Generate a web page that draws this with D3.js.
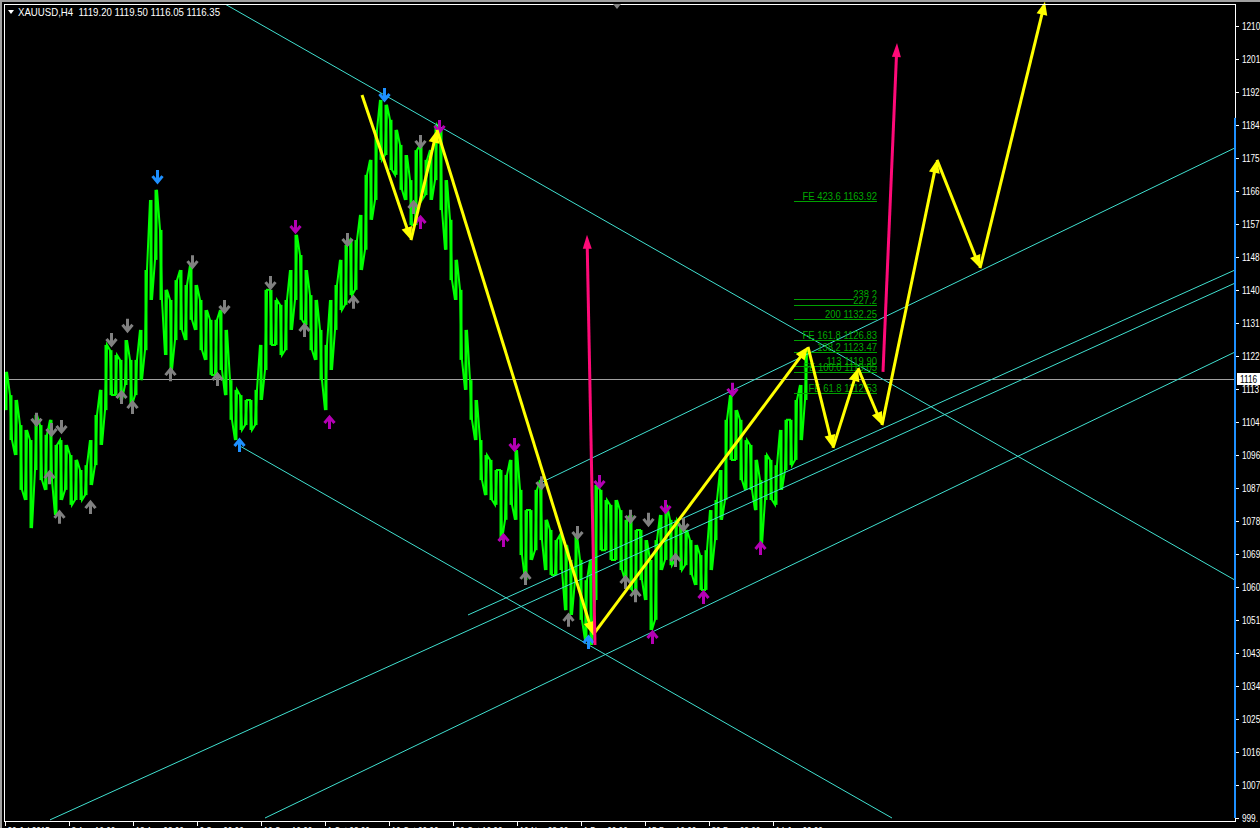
<!DOCTYPE html>
<html><head><meta charset="utf-8">
<script src="https://cdn.jsdelivr.net/npm/d3@7"></script>
<style>html,body{margin:0;padding:0;background:#000;overflow:hidden}</style>
</head><body>
<svg id="c" width="1260" height="828"></svg>
<script>
// ---------------- DATA ----------------
const symbolTitle = "XAUUSD,H4  1119.20 1119.50 1116.05 1116.35";
const lastPrice = 1116.35;
const lastPriceLabel = "1116";

const priceTicks = [999.10,1007.91,1016.72,1025.53,1034.34,1043.15,1051.96,1060.77,1069.58,1078.39,1087.20,1096.01,1104.82,1113.63,1122.44,1131.25,1140.06,1148.87,1157.68,1166.49,1175.30,1184.11,1192.92,1201.73,1210.54];
const priceTickLabels = ["999.","1007","1016","1025","1034","1043","1051","1060","1069","1078","1087","1096","1104","1113","1122","1131","1140","1148","1157","1166","1175","1184","1192","1201","1210"];

const timeTickBars = [0,64,128,192,256,320,384,448,512,576,640,704,768];
const timeTickLabels = ["20 Jul 2015","3 Aug 16:00","18 Aug 08:00","2 Sep 00:00","16 Sep 16:00","1 Oct 08:00","16 Oct 00:00","30 Oct 16:00","16 Nov 08:00","1 Dec 00:00","15 Dec 16:00","30 Dec 08:00","14 Jan 00:00"];

// sampled H4 bars (every 5th bar): highs and lows
const sampleStep = 5;
const barHigh = [1118.2,1112.0,1110.7,1104.0,1102.7,1100.0,1106.7,1104.0,1101.4,1105.4,1098.7,1100.0,1098.7,1096.0,1094.7,1092.0,1093.3,1100.0,1106.7,1113.4,
1125.4,1124.0,1122.7,1121.4,1126.7,1121.4,1121.4,1129.4,1145.4,1164.1,1166.8,1156.1,1140.1,1137.4,1142.7,1145.4,1141.4,1146.7,1141.4,1137.4,
1134.7,1132.1,1132.1,1134.7,1129.4,1116.0,1113.4,1112.0,1110.7,1110.7,1113.4,1125.4,1140.1,1140.1,1137.4,1136.1,1137.4,1145.4,1154.8,1149.4,
1145.4,1138.7,1137.4,1129.4,1125.4,1137.4,1141.4,1148.1,1152.1,1153.4,1153.4,1160.1,1170.8,1174.8,1182.8,1190.8,1189.5,1185.5,1182.8,1178.8,
1176.1,1169.4,1177.4,1178.8,1174.8,1177.4,1184.1,1182.8,1169.4,1158.8,1148.1,1140.1,1129.4,1116.0,1110.7,1100.0,1096.0,1094.7,1092.0,1092.0,
1090.7,1094.7,1097.3,1086.7,1081.3,1081.3,1086.7,1089.3,1078.7,1076.0,1073.3,1074.7,1072.0,1068.0,1074.7,1068.0,1062.6,1068.0,1088.0,1086.7,
1084.0,1082.7,1084.0,1081.3,1078.7,1080.0,1076.0,1076.0,1073.3,1068.0,1073.3,1080.0,1082.7,1078.7,1078.7,1077.3,1076.0,1073.3,1072.0,1069.3,
1070.6,1081.3,1084.0,1092.0,1105.4,1112.0,1108.0,1105.4,1100.0,1098.7,1094.7,1089.3,1096.0,1094.7,1093.3,1102.7,1105.4,1105.4,1110.7,1114.7,1124.0];
const barLow = [1108.0,1100.0,1096.0,1086.7,1084.0,1076.5,1092.0,1089.3,1086.7,1089.3,1080.0,1084.0,1086.7,1082.7,1084.0,1084.0,1085.3,1088.0,1093.3,1098.7,
1108.0,1112.0,1112.0,1110.7,1114.7,1109.4,1112.0,1116.0,1124.0,1137.4,1148.1,1137.4,1122.7,1118.7,1126.7,1129.4,1126.7,1132.1,1129.4,1124.0,
1121.4,1117.4,1117.4,1118.7,1112.0,1105.4,1100.0,1102.7,1104.0,1102.7,1104.0,1110.7,1118.7,1125.4,1125.4,1122.7,1124.0,1129.4,1137.4,1132.1,
1130.7,1124.0,1121.4,1116.0,1108.0,1118.7,1129.4,1134.7,1136.1,1138.7,1140.1,1145.4,1150.8,1158.8,1164.1,1174.8,1176.1,1172.1,1170.8,1166.8,
1164.1,1157.4,1157.4,1164.1,1165.4,1164.1,1169.4,1161.4,1150.8,1142.7,1137.4,1121.4,1113.4,1105.4,1100.0,1089.3,1085.3,1084.0,1082.7,1073.3,
1078.7,1082.7,1078.7,1069.3,1062.6,1068.0,1070.6,1073.3,1065.3,1064.0,1064.0,1065.3,1054.6,1053.3,1062.6,1052.0,1046.6,1045.3,1057.3,1070.6,
1070.6,1068.0,1068.0,1065.3,1062.6,1060.0,1058.6,1062.6,1057.3,1049.3,1052.0,1065.3,1068.0,1066.6,1068.0,1065.3,1066.6,1064.0,1061.3,1060.0,
1060.0,1065.3,1073.3,1078.7,1084.0,1094.7,1094.7,1089.3,1086.7,1086.7,1081.3,1072.0,1084.0,1084.0,1082.7,1086.7,1092.0,1093.3,1094.7,1100.0,1110.7];

// fractal arrows [bar, price]
const grayDownArrows = [[31,1105.4],[46,1102.7],[56,1103.5],[106,1126.7],[122,1130.5],[187,1147.5],[219,1135.5],[265,1141.9],[342,1153.4],[415,1179.6],[536,1088.5],[572,1075.2],[625,1079.5],[643,1078.7],[678,1077.3]];
const grayUpArrows = [[44,1090.1],[54,1079.5],[85,1082.1],[116,1111.5],[127,1108.8],[165,1117.6],[212,1116.3],[299,1129.4],[348,1136.9],[408,1162.2],[520,1063.2],[563,1052.0],[620,1062.1],[630,1058.6],[670,1068.0]];
const magentaDownArrows = [[290,1156.9],[434,1183.6],[509,1098.7],[594,1088.8],[660,1082.1],[727,1113.4]];
const magentaUpArrows = [[324,1104.8],[415,1158.2],[498,1073.3],[647,1047.4],[698,1058.1],[755,1071.2]];
const blueDownArrows = [[152,1170.2],[379,1192.1]];
const blueUpArrows = [[234,1098.7],[583,1046.1]];

// trend lines [bar1, price1, bar2, price2]
const trendLines = [
  [220,1216.4,1230,1062.6],
  [233,1098.7,887,999.1],
  [260,999.1,1230,1123.5],
  [45,998.6,1230,1141.9],
  [463,1053.3,1230,1145.4],
  [535,1088.5,1230,1178.0]
];

// yellow projected wave path [bar, price]
const wavePath = [[357,1192.1],[406,1153.4],[432,1182.8],[588,1048.0],[803,1124.9],[828,1097.9],[853,1119.2],[877,1104.0],[932,1174.8],[975,1145.9],[1040,1217.0]];
// pink arrows [bar1, price1, bar2, price2]
const pinkArrows = [[590,1045.3,582,1154.8],[878,1118.2,892,1206.0]];

// fibonacci levels
const fibStartBar = 789, fibEndBar = 872;
const fibLabels = ["FE 423.6 1163.92","238.2","227.2","200 1132.25","FE 161.8 1126.83","138.2 1123.47","113 1119.90","FE 100.0 1118.05","FE 61.8 1112.53"];
const fibPrices = [1163.92,1137.71,1136.12,1132.25,1126.83,1123.47,1119.90,1118.05,1112.53];

// ---------------- DRAW ----------------
const W = 1260, H = 828;
const FONT = "'Liberation Sans',Arial,sans-serif";
const svg = d3.select('#c');
const x = d3.scaleLinear().domain([0,1230]).range([5,1235]);
const y = d3.scaleLinear().domain([priceTicks[0], priceTicks[priceTicks.length-1]]).range([818,26]);

function squeeze(sel, f){
  sel.each(function(){
    const L = this.getComputedTextLength();
    d3.select(this).attr('textLength', L*f).attr('lengthAdjust','spacingAndGlyphs');
  });
}

svg.append('rect').attr('width',W).attr('height',H).attr('fill','#000');
svg.append('defs').append('clipPath').attr('id','plot')
  .append('rect').attr('x',5).attr('y',5).attr('width',1230).attr('height',816);

// window chrome
svg.append('rect').attr('x',0).attr('y',0).attr('width',W).attr('height',2).attr('fill','#a0a0a0');
svg.append('rect').attr('x',0).attr('y',0).attr('width',2).attr('height',H).attr('fill','#a0a0a0');

const plot = svg.append('g').attr('clip-path','url(#plot)');

// current price line
plot.append('line').attr('x1',5).attr('x2',1235).attr('y1',Math.round(y(lastPrice))+0.5).attr('y2',Math.round(y(lastPrice))+0.5)
  .attr('stroke','#a0a0a0').attr('stroke-width',1);

// bars: high-low columns plus a jagged high/low trace
const barG = plot.append('g');
barG.selectAll('rect').data(barHigh).join('rect')
  .attr('x',(d,i)=>x(1+i*sampleStep)-1.5)
  .attr('width',3)
  .attr('y',(d,i)=>y(barHigh[i]))
  .attr('height',(d,i)=>Math.max(1,y(barLow[i])-y(barHigh[i])))
  .attr('fill','#00ff00');
const trace = [];
barHigh.forEach((h,i)=>{
  const bx = x(1+i*sampleStep);
  if (i%2===0){ trace.push([bx-1,y(barLow[i])]); trace.push([bx+1,y(h)]); }
  else { trace.push([bx-1,y(h)]); trace.push([bx+1,y(barLow[i])]); }
});
barG.append('path').attr('d',d3.line()(trace)).attr('fill','none')
  .attr('stroke','#00ff00').attr('stroke-width',2).attr('stroke-linejoin','miter');

// trend lines
plot.append('g').selectAll('line').data(trendLines).join('line')
  .attr('x1',d=>x(d[0])).attr('y1',d=>y(d[1]))
  .attr('x2',d=>x(d[2])).attr('y2',d=>y(d[3]))
  .attr('stroke','#40e0d0').attr('stroke-width',1);

// fib levels
const fibG = plot.append('g');
fibPrices.forEach((p,i)=>{
  const yy = Math.round(y(p))+0.5;
  fibG.append('line').attr('x1',x(fibStartBar)).attr('x2',x(fibEndBar)).attr('y1',yy).attr('y2',yy)
    .attr('stroke','#00a000').attr('stroke-width',1);
  if (fibLabels[i]==="227.2"){
    fibG.append('rect').attr('x',x(fibEndBar)-23).attr('y',yy-10).attr('width',23).attr('height',9).attr('fill','#000');
  }
  const t = fibG.append('text').attr('x',x(fibEndBar)).attr('y',yy-2).attr('text-anchor','end')
    .attr('font-family',FONT).attr('font-size',11).attr('fill','#00a800').text(fibLabels[i]);
  squeeze(t,0.86);
});

// fractal arrows
function arrowPath(cx,cy,dir){
  const s = dir;
  return `M${cx},${cy-7*s}L${cx},${cy+5*s}M${cx-5},${cy-1*s}L${cx},${cy+5*s}L${cx+5},${cy-1*s}`;
}
function drawArrows(data,dir,color){
  plot.append('g').selectAll('path').data(data).join('path')
    .attr('d',d=>arrowPath(Math.round(x(d[0]))+0.5,y(d[1]),dir))
    .attr('fill','none').attr('stroke',color).attr('stroke-width',3);
}
drawArrows(grayDownArrows,1,'#808080');
drawArrows(grayUpArrows,-1,'#808080');
drawArrows(magentaDownArrows,1,'#b400b4');
drawArrows(magentaUpArrows,-1,'#b400b4');
drawArrows(blueDownArrows,1,'#1e90ff');
drawArrows(blueUpArrows,-1,'#1e90ff');

// arrows with filled heads
function headArrow(g,x0,y0,x1,y1,color,w,hl,hw){
  const dx=x1-x0, dy=y1-y0, L=Math.hypot(dx,dy), ux=dx/L, uy=dy/L;
  const bx=x1-ux*hl, by=y1-uy*hl;
  g.append('line').attr('x1',x0).attr('y1',y0).attr('x2',bx+ux*1).attr('y2',by+uy*1)
    .attr('stroke',color).attr('stroke-width',w);
  g.append('path').attr('d',`M${x1},${y1}L${bx-uy*hw},${by+ux*hw}L${bx+uy*hw},${by-ux*hw}Z`).attr('fill',color);
}
const over = svg.append('g');
for (let i=0;i<wavePath.length-1;i++){
  headArrow(over,x(wavePath[i][0]),y(wavePath[i][1]),x(wavePath[i+1][0]),y(wavePath[i+1][1]),'#ffff00',3,13,5.5);
}
pinkArrows.forEach(d=>headArrow(over,x(d[0]),y(d[1]),x(d[2]),y(d[3]),'#ff0a78',3,14,4.5));

// frame
svg.append('line').attr('x1',4).attr('x2',1235).attr('y1',4.5).attr('y2',4.5).attr('stroke','#fff');
svg.append('line').attr('x1',4.5).attr('x2',4.5).attr('y1',4).attr('y2',821).attr('stroke','#fff');
svg.append('line').attr('x1',1235.5).attr('x2',1235.5).attr('y1',4).attr('y2',821).attr('stroke','#fff');
svg.append('line').attr('x1',4).attr('x2',1236).attr('y1',821.5).attr('y2',821.5).attr('stroke','#fff');
svg.append('rect').attr('x',1234).attr('y',y(1186.0)).attr('width',2).attr('height',818-y(1186.0)).attr('fill','#1e90ff');
// chart shift marker
svg.append('path').attr('d','M613,4L621,4L617,9Z').attr('fill','#808080');

// right price axis
const yAxis = d3.axisRight(y).tickValues(priceTicks).tickSize(3).tickPadding(3)
  .tickFormat((d,i)=>priceTickLabels[i]);
const ya = svg.append('g').attr('transform','translate(1236,0)').call(yAxis);
ya.select('.domain').remove();
ya.selectAll('line').attr('stroke','#fff');
ya.selectAll('text').attr('fill','#fff').attr('font-family',FONT).attr('font-size',10);
squeeze(ya.selectAll('text'),0.82);

// last price box
svg.append('rect').attr('x',1237).attr('y',Math.round(y(lastPrice))-6).attr('width',23).attr('height',12).attr('fill','#fff');
const lp = svg.append('text').attr('x',1240).attr('y',Math.round(y(lastPrice))+4).attr('fill','#000')
  .attr('font-family',FONT).attr('font-size',10).text(lastPriceLabel);
squeeze(lp,0.82);

// bottom time axis
const xAxis = d3.axisBottom(x).tickValues(timeTickBars).tickSize(4).tickPadding(2)
  .tickFormat((d,i)=>timeTickLabels[i]);
const xa = svg.append('g').attr('transform','translate(0,822)').call(xAxis);
xa.select('.domain').remove();
xa.selectAll('line').attr('stroke','#fff');
xa.selectAll('text').attr('fill','#fff').attr('font-family',FONT).attr('font-size',10)
  .attr('text-anchor','start').attr('dx',2);
squeeze(xa.selectAll('text'),0.82);

// header
svg.append('path').attr('d','M8,10L14,10L11,14Z').attr('fill','#fff');
const ht = svg.append('text').attr('x',18).attr('y',16).attr('fill','#fff').attr('font-family',FONT)
  .attr('font-size',11).attr('xml:space','preserve').style('white-space','pre').text(symbolTitle);
ht.attr('textLength',202).attr('lengthAdjust','spacingAndGlyphs');
</script>
</body></html>
